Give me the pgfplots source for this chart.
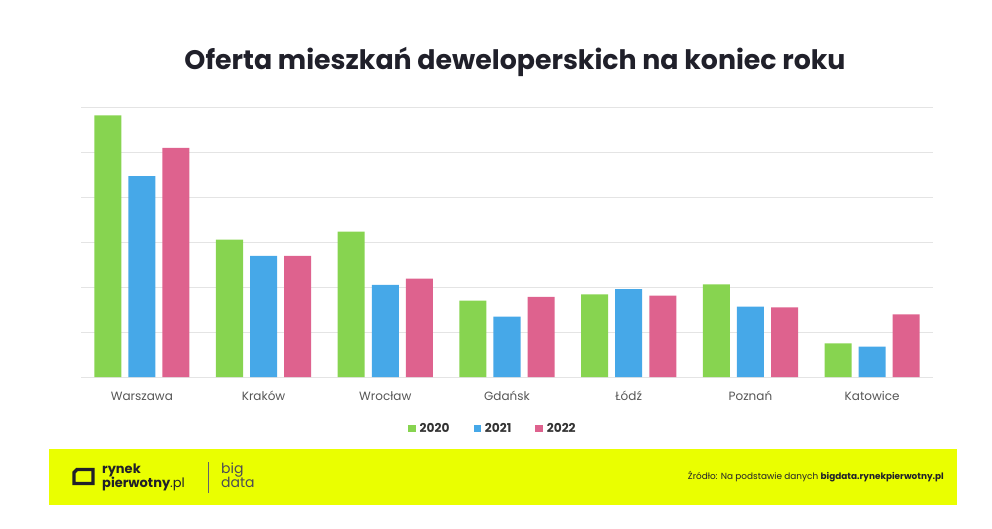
\documentclass[border=0pt]{standalone}
\usepackage{pgfplots}
\pgfplotsset{compat=1.18}
\usepackage{fontspec}
\setmainfont{Poppins}
\definecolor{cgreen}{RGB}{135,212,80}
\definecolor{cblue}{RGB}{70,168,232}
\definecolor{cpink}{RGB}{222,98,142}
\definecolor{cgrid}{RGB}{228,228,228}
\definecolor{ctitle}{RGB}{32,32,42}
\definecolor{clabel}{RGB}{85,85,85}
\definecolor{cyellow}{RGB}{234,255,0}
\begin{document}
\begin{tikzpicture}[x=1pt,y=1pt]
\path[use as bounding box] (0,0) rectangle (992,528);
\node[font=\fontsize{26.8}{30}\selectfont\bfseries, text=ctitle] at (515,466) {Oferta mieszkań deweloperskich na koniec roku};
\begin{axis}[
  at={(81pt,151pt)}, anchor=south west,
  scale only axis, width=852pt, height=270pt,
  xmin=-0.5, xmax=6.5, ymin=0, ymax=12000,
  scaled y ticks=false,
  axis line style={draw=none},
  ytick={0,2000,4000,6000,8000,10000,12000}, yticklabels={},
  ymajorgrids, grid style={draw=cgrid, line width=0.9pt},
  major tick length=0pt,
  xtick={0,1,2,3,4,5,6},
  xticklabels={Warszawa,Kraków,Wrocław,Gdańsk,Łódź,Poznań,Katowice},
  xticklabel style={font=\fontsize{12}{14}\selectfont, text=clabel, text height=9pt, text depth=3pt, yshift=-10.5pt},
  ybar, bar width=0.222,
  legend columns=3,
  legend style={at={(0.4836,-0.19)}, anchor=center, draw=none, fill=none,
    font=\fontsize{12.2}{15}\selectfont\bfseries, text=black!80,
    /tikz/every even column/.append style={column sep=22pt},
    /tikz/every odd column/.append style={column sep=2pt}},
  legend image code/.code={\fill[#1] (0pt,-3.7pt) rectangle (7.4pt,3.7pt);},
]
\addplot[fill=cgreen, draw=none, bar shift=-0.28] coordinates {
 (0,11630) (1,6104) (2,6459) (3,3393) (4,3674) (5,4119) (6,1496)};
\addplot[fill=cblue, draw=none, bar shift=0] coordinates {
 (0,8933) (1,5378) (2,4089) (3,2681) (4,3911) (5,3126) (6,1348)};
\addplot[fill=cpink, draw=none, bar shift=0.28] coordinates {
 (0,10178) (1,5378) (2,4370) (3,3556) (4,3615) (5,3096) (6,2785)};
\legend{2020,2021,2022}
\end{axis}
% footer
\fill[cyellow] (49,23) rectangle (957,79);
\draw[ctitle, line width=3.2pt] (74,44.5) -- (93,44.5) -- (93,58.5) -- (77,58.5) -- (74,55.5) -- cycle;
\node[anchor=base west, font=\fontsize{13}{13}\selectfont\bfseries, text=ctitle, inner sep=0] at (102,55) {rynek};
\node[anchor=base west, font=\fontsize{13}{13}\selectfont, text=ctitle, inner sep=0] at (102,41) {\textbf{pierwotny}.pl};
\draw[ctitle!70, line width=0.6pt] (208,35) -- (208,66);
\node[anchor=base west, font=\fontsize{14}{14}\selectfont, text=ctitle!80, inner sep=0] at (221,55) {big};
\node[anchor=base west, font=\fontsize{14}{14}\selectfont, text=ctitle!80, inner sep=0] at (221,41) {data};
\node[anchor=east, font=\fontsize{8.9}{10}\selectfont, text=ctitle, inner sep=0] at (944,51) {Źródło: Na podstawie danych \textbf{bigdata.rynekpierwotny.pl}};
\end{tikzpicture}
\end{document}
